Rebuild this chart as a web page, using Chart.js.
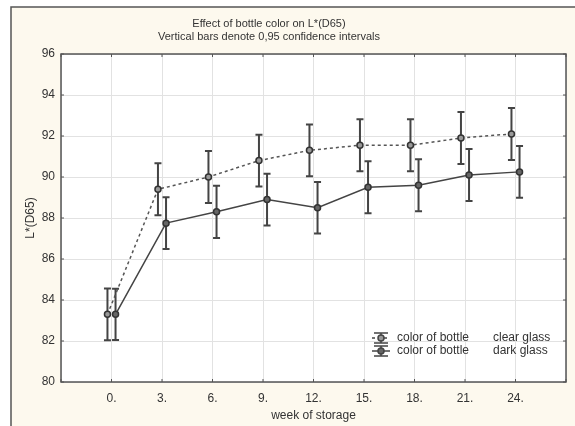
<!DOCTYPE html>
<html>
<head>
<meta charset="utf-8">
<script src="https://cdn.jsdelivr.net/npm/chart.js@4.4.1/dist/chart.umd.min.js"></script>
<style>
  html, body { margin: 0; padding: 0; background: #fff; }
</style>
</head>
<body>
<canvas id="graph" width="575" height="426"></canvas>
<script>
const weeks = [0, 3, 6, 9, 12, 15, 18, 21, 24];
const clearGlass = [83.3, 89.4, 90.0, 90.8, 91.3, 91.55, 91.55, 91.9, 92.1];
const darkGlass = [83.3, 87.75, 88.3, 88.9, 88.5, 89.5, 89.6, 90.1, 90.25];
const clearCI = [1.26, 1.27, 1.27, 1.26, 1.26, 1.27, 1.27, 1.27, 1.27];
const darkCI = [1.25, 1.26, 1.27, 1.26, 1.26, 1.27, 1.27, 1.27, 1.26];
const seriesNames = ["clear glass", "dark glass"];

const font = '"Liberation Sans", Arial, sans-serif';
const shift = 0.24; // small side offset so the two bars don't overlap

function points(vals, ci, dx) {
  return weeks.map((w, i) => ({ x: w + dx, y: vals[i], ci: ci[i] }));
}

// background, frame, plot border, error bars, legend, title
const decor = {
  id: "decor",
  beforeDraw(chart) {
    const c = chart.ctx, a = chart.chartArea;
    c.save();
    c.fillStyle = "#fff";
    c.fillRect(0, 0, chart.width, chart.height);
    c.fillStyle = "#fdf9ee";
    c.fillRect(11, 7, chart.width, chart.height);
    c.strokeStyle = "#555";
    c.lineWidth = 1.5;
    c.beginPath();
    c.moveTo(11, chart.height);
    c.lineTo(11, 7);
    c.lineTo(chart.width, 7);
    c.stroke();
    c.fillStyle = "#fff";
    c.fillRect(a.left, a.top, a.right - a.left, a.bottom - a.top);
    c.restore();
  },
  beforeDatasetsDraw(chart) {
    const c = chart.ctx, xs = chart.scales.x, ys = chart.scales.y;
    c.save();
    c.strokeStyle = "#444";
    c.lineWidth = 2;
    chart.data.datasets.forEach(ds => {
      ds.data.forEach(p => {
        const px = xs.getPixelForValue(p.x);
        const top = ys.getPixelForValue(p.y + p.ci);
        const bot = ys.getPixelForValue(p.y - p.ci);
        c.beginPath();
        c.moveTo(px, top); c.lineTo(px, bot);
        c.moveTo(px - 3.5, top); c.lineTo(px + 3.5, top);
        c.moveTo(px - 3.5, bot); c.lineTo(px + 3.5, bot);
        c.stroke();
      });
    });
    c.restore();
  },
  afterDraw(chart) {
    const c = chart.ctx, a = chart.chartArea, xs = chart.scales.x, ys = chart.scales.y;
    c.save();
    // inward tick marks
    c.strokeStyle = "#555";
    c.lineWidth = 1;
    c.beginPath();
    ys.ticks.forEach(t => {
      const py = ys.getPixelForValue(t.value);
      c.moveTo(a.left, py); c.lineTo(a.left + 3, py);
      c.moveTo(a.right, py); c.lineTo(a.right - 3, py);
    });
    xs.ticks.forEach(t => {
      const px = xs.getPixelForValue(t.value);
      c.moveTo(px, a.top); c.lineTo(px, a.top + 3);
      c.moveTo(px, a.bottom); c.lineTo(px, a.bottom - 3);
    });
    c.stroke();
    // plot frame
    c.strokeStyle = "#555";
    c.lineWidth = 1.5;
    c.strokeRect(a.left, a.top, a.right - a.left, a.bottom - a.top);

    // legend
    c.font = "12px " + font;
    c.textBaseline = "middle";
    chart.data.datasets.forEach((ds, i) => {
      const cx = 381, cy = 338 + i * 13;
      c.strokeStyle = "#444";
      c.lineWidth = 1.5;
      c.setLineDash([]);
      c.beginPath();
      c.moveTo(cx - 7, cy - 5); c.lineTo(cx + 7, cy - 5);
      c.moveTo(cx - 7, cy + 5); c.lineTo(cx + 7, cy + 5);
      c.moveTo(cx, cy - 5); c.lineTo(cx, cy + 5);
      c.stroke();
      c.setLineDash(ds.borderDash || []);
      c.beginPath();
      c.moveTo(cx - 9, cy); c.lineTo(cx + 9, cy);
      c.stroke();
      c.setLineDash([]);
      c.fillStyle = ds.pointBackgroundColor;
      c.beginPath();
      c.arc(cx, cy, 3, 0, Math.PI * 2);
      c.fill();
      c.stroke();
      c.fillStyle = "#333";
      c.textAlign = "left";
      c.fillText("color of bottle", 397, cy);
      c.fillText(ds.label, 493, cy);
    });

    // title
    c.font = "11px " + font;
    c.fillStyle = "#333";
    c.textAlign = "center";
    c.fillText("Effect of bottle color on L*(D65)", 269, 24);
    c.fillText("Vertical bars denote 0,95 confidence intervals", 269, 37);
    c.restore();
  }
};

new Chart(document.getElementById("graph").getContext("2d"), {
  type: "line",
  data: {
    datasets: [
      {
        label: seriesNames[0],
        data: points(clearGlass, clearCI, -shift),
        borderColor: "#555",
        borderWidth: 1.5,
        borderDash: [3, 3],
        pointRadius: 3,
        pointBorderWidth: 1.5,
        pointBorderColor: "#333",
        pointBackgroundColor: "#999",
      },
      {
        label: seriesNames[1],
        data: points(darkGlass, darkCI, shift),
        borderColor: "#444",
        borderWidth: 1.5,
        pointRadius: 3,
        pointBorderWidth: 1.5,
        pointBorderColor: "#333",
        pointBackgroundColor: "#666",
      },
    ],
  },
  options: {
    responsive: false,
    animation: false,
    events: [],
    layout: { padding: { left: 14, top: 54, right: 5, bottom: 0 } },
    plugins: {
      legend: { display: false },
      title: { display: false },
      tooltip: { enabled: false },
    },
    scales: {
      x: {
        type: "linear",
        min: -3,
        max: 27,
        afterFit: s => { s.height = 44; },
        grid: { color: "#e2e2e2", drawTicks: false },
        border: { display: false },
        ticks: {
          stepSize: 3,
          padding: 9,
          color: "#333",
          font: { family: font, size: 12 },
          callback: v => (v < 0 || v > 24 ? "" : v + "."),
        },
        title: {
          display: true,
          text: "week of storage",
          color: "#333",
          font: { family: font, size: 12 },
          padding: { top: 0, bottom: 3 },
        },
      },
      y: {
        min: 80,
        max: 96,
        afterFit: s => { s.width = 47; },
        grid: { color: "#e2e2e2", drawTicks: false },
        border: { display: false },
        ticks: {
          stepSize: 2,
          padding: 6,
          color: "#333",
          font: { family: font, size: 12 },
        },
        title: {
          display: true,
          text: "L*(D65)",
          color: "#333",
          font: { family: font, size: 12 },
          padding: { top: 9, bottom: 0 },
        },
      },
    },
  },
  plugins: [decor],
});
</script>
</body>
</html>
